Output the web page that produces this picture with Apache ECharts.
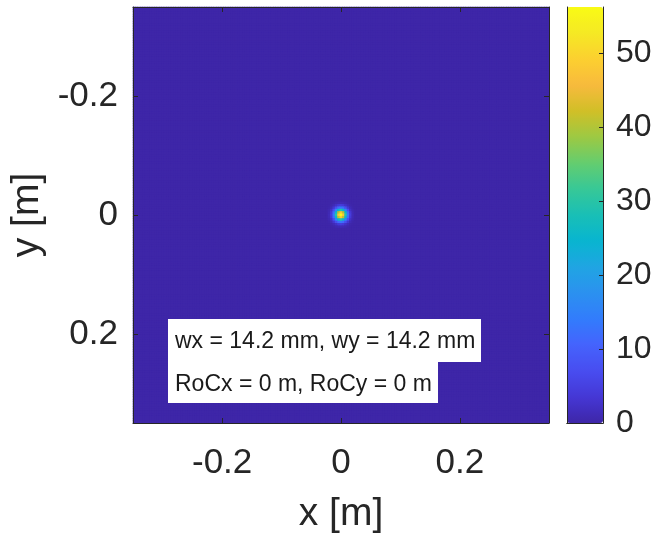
<!DOCTYPE html>
<html><head><meta charset="utf-8">
<script src="https://cdn.jsdelivr.net/npm/echarts@6/dist/echarts.min.js"></script>
<style>html,body{margin:0;padding:0;background:#fff}#c{width:656px;height:533px}</style>
</head><body><div id="c"></div>
<script>
// ---- data ----
const cellSize = 0.004;            // grid step [m]
const nCells = 175;                // cells per axis (x and y from -0.35 to 0.35)
const xTickValues = [-0.2, 0, 0.2];
const xTickLabels = ['-0.2', '0', '0.2'];
const yTickValues = [-0.2, 0, 0.2];
const yTickLabels = ['-0.2', '0', '0.2'];
const cbMax = 56.2;
const cbTickValues = [0, 10, 20, 30, 40, 50];
const xName = 'x [m]';
const yName = 'y [m]';
const annotation1 = 'wx = 14.2 mm, wy = 14.2 mm';
const annotation2 = 'RoCx = 0 m, RoCy = 0 m';
// intensity of the central spot, rows y = -0.02..0.02, columns x = -0.02..0.02 (step 0.004); everything else ~0
const spotValues = [
  [0.02, 0.08, 0.25, 0.6, 0.9, 1.1, 0.9, 0.6, 0.25, 0.08, 0.02],
  [0.08, 0.35, 1.1, 2.3, 3.8, 4.4, 3.8, 2.3, 1.1, 0.35, 0.08],
  [0.25, 1.1, 3.2, 7.1, 11.5, 13.4, 11.5, 7.1, 3.2, 1.1, 0.25],
  [0.6, 2.3, 7.1, 15.7, 25.3, 29.7, 25.3, 15.7, 7.1, 2.3, 0.6],
  [0.9, 3.8, 11.5, 25.3, 40.8, 47.8, 40.8, 25.3, 11.5, 3.8, 0.9],
  [1.1, 4.4, 13.4, 29.7, 47.8, 56.2, 47.8, 29.7, 13.4, 4.4, 1.1],
  [0.9, 3.8, 11.5, 25.3, 40.8, 47.8, 40.8, 25.3, 11.5, 3.8, 0.9],
  [0.6, 2.3, 7.1, 15.7, 25.3, 29.7, 25.3, 15.7, 7.1, 2.3, 0.6],
  [0.25, 1.1, 3.2, 7.1, 11.5, 13.4, 11.5, 7.1, 3.2, 1.1, 0.25],
  [0.08, 0.35, 1.1, 2.3, 3.8, 4.4, 3.8, 2.3, 1.1, 0.35, 0.08],
  [0.02, 0.08, 0.25, 0.6, 0.9, 1.1, 0.9, 0.6, 0.25, 0.08, 0.02]
];
const parula = ['#3e26a8','#4537d5','#484df0','#4563fd','#327cfc','#2b91ef','#20a5e3','#08b5d0',
  '#19bfb6','#37c897','#64cd6f','#9dc943','#d1bf27','#f8ba3d','#fcd030','#f5e924','#f9fb15'];

// ---- build ----
const mid = (nCells - 1) / 2;
const cats = Array.from({length: nCells}, (_, i) => ((i - mid) * cellSize).toFixed(3));
const half = (spotValues.length - 1) / 2;
const data = [];
for (let j = 0; j < nCells; j++) {
  for (let i = 0; i < nCells; i++) {
    const sj = j - mid + half, si = i - mid + half;
    let v = 0;
    if (sj >= 0 && sj < spotValues.length && si >= 0 && si < spotValues.length) v = spotValues[sj][si];
    data.push([i, j, v]);
  }
}
const xTickIdx = xTickValues.map(v => Math.round(v / cellSize) + mid);
const yTickIdx = yTickValues.map(v => Math.round(v / cellSize) + mid);
const FONT = 'Liberation Sans';
const TXT = '#262626';
const lineS = {show: true, lineStyle: {color: TXT, width: 1}};

const chart = echarts.init(document.getElementById('c'), null, {renderer: 'canvas'});
chart.setOption({
  animation: false,
  backgroundColor: '#fff',
  textStyle: {fontFamily: FONT},
  grid: [
    {left: 133, top: 7, width: 416, height: 416, show: true, backgroundColor: parula[0], borderWidth: 0,
     containLabel: false, outerBoundsMode: 'none'},
    {left: 567, top: 7, width: 36, height: 416, containLabel: false, outerBoundsMode: 'none'}
  ],
  xAxis: [
    {type: 'category', gridIndex: 0, data: cats, position: 'bottom', z: 10,
     axisLine: lineS,
     axisTick: {show: true, inside: true, length: 5, alignWithLabel: true, interval: i => xTickIdx.includes(i), lineStyle: {color: TXT}},
     axisLabel: {show: true, interval: i => xTickIdx.includes(i), formatter: (v, i) => xTickLabels[xTickIdx.indexOf(i)],
       fontSize: 35, color: TXT, fontFamily: FONT, margin: 23},
     splitLine: {show: false},
     name: xName, nameLocation: 'middle', nameGap: 72, nameTextStyle: {fontSize: 39, color: TXT, fontFamily: FONT}},
    {type: 'category', gridIndex: 0, data: cats, position: 'top', z: 10,
     axisLine: lineS,
     axisTick: {show: true, inside: true, length: 5, alignWithLabel: true, interval: i => xTickIdx.includes(i), lineStyle: {color: TXT}},
     axisLabel: {show: false}, splitLine: {show: false}},
    {type: 'category', gridIndex: 1, data: ['c'], position: 'bottom', z: 10, axisLine: lineS,
     axisTick: {show: false}, axisLabel: {show: false}},
    {type: 'category', gridIndex: 1, data: ['c'], position: 'top', z: 10, axisLine: lineS,
     axisTick: {show: false}, axisLabel: {show: false}}
  ],
  yAxis: [
    {type: 'category', gridIndex: 0, data: cats, inverse: true, position: 'left', z: 10,
     axisLine: lineS,
     axisTick: {show: true, inside: true, length: 5, alignWithLabel: true, interval: i => yTickIdx.includes(i), lineStyle: {color: TXT}},
     axisLabel: {show: true, interval: i => yTickIdx.includes(i), formatter: (v, i) => yTickLabels[yTickIdx.indexOf(i)],
       fontSize: 35, color: TXT, fontFamily: FONT, margin: 15, padding: [10, 0, 0, 0]},
     splitLine: {show: false},
     name: yName, nameLocation: 'middle', nameGap: 84, nameRotate: 90, nameTextStyle: {fontSize: 39, color: TXT, fontFamily: FONT}},
    {type: 'category', gridIndex: 0, data: cats, inverse: true, position: 'right', z: 10,
     axisLine: lineS,
     axisTick: {show: true, inside: true, length: 5, alignWithLabel: true, interval: i => yTickIdx.includes(i), lineStyle: {color: TXT}},
     axisLabel: {show: false}, splitLine: {show: false}},
    {type: 'value', gridIndex: 1, min: 0, max: cbMax, interval: 10, position: 'right', z: 10,
     axisLine: lineS,
     axisTick: {show: true, inside: true, length: 4, lineStyle: {color: TXT}},
     axisLabel: {show: true, showMaxLabel: false, formatter: v => cbTickValues.includes(v) ? String(v) : '',
       fontSize: 32, color: TXT, fontFamily: FONT, margin: 13},
     splitLine: {show: false}},
    {type: 'value', gridIndex: 1, min: 0, max: cbMax, position: 'left', z: 10,
     axisLine: lineS, axisTick: {show: false}, axisLabel: {show: false}, splitLine: {show: false}}
  ],
  visualMap: {
    type: 'continuous', min: 0, max: cbMax, seriesIndex: 0, dimension: 2,
    left: 567, top: 7, itemWidth: 36, itemHeight: 416, padding: 0,
    calculable: false, hoverLink: false, text: null, showLabel: false,
    inRange: {color: parula}
  },
  series: [{
    type: 'heatmap', xAxisIndex: 0, yAxisIndex: 0, data: data,
    progressive: 0, silent: true, emphasis: {disabled: true},
    itemStyle: {borderWidth: 0}
  }],
  graphic: [
    {type: 'rect', z: 100, shape: {x: 168, y: 319, width: 313, height: 43}, style: {fill: '#fff'}},
    {type: 'rect', z: 100, shape: {x: 168, y: 361, width: 270, height: 42}, style: {fill: '#fff'}},
    {type: 'text', z: 101, x: 175, y: 342, style: {text: annotation1, font: '23px "Liberation Sans"', fill: '#1a1a1a', verticalAlign: 'middle'}},
    {type: 'text', z: 101, x: 175, y: 385, style: {text: annotation2, font: '23px "Liberation Sans"', fill: '#1a1a1a', verticalAlign: 'middle'}}
  ]
});
</script></body></html>
